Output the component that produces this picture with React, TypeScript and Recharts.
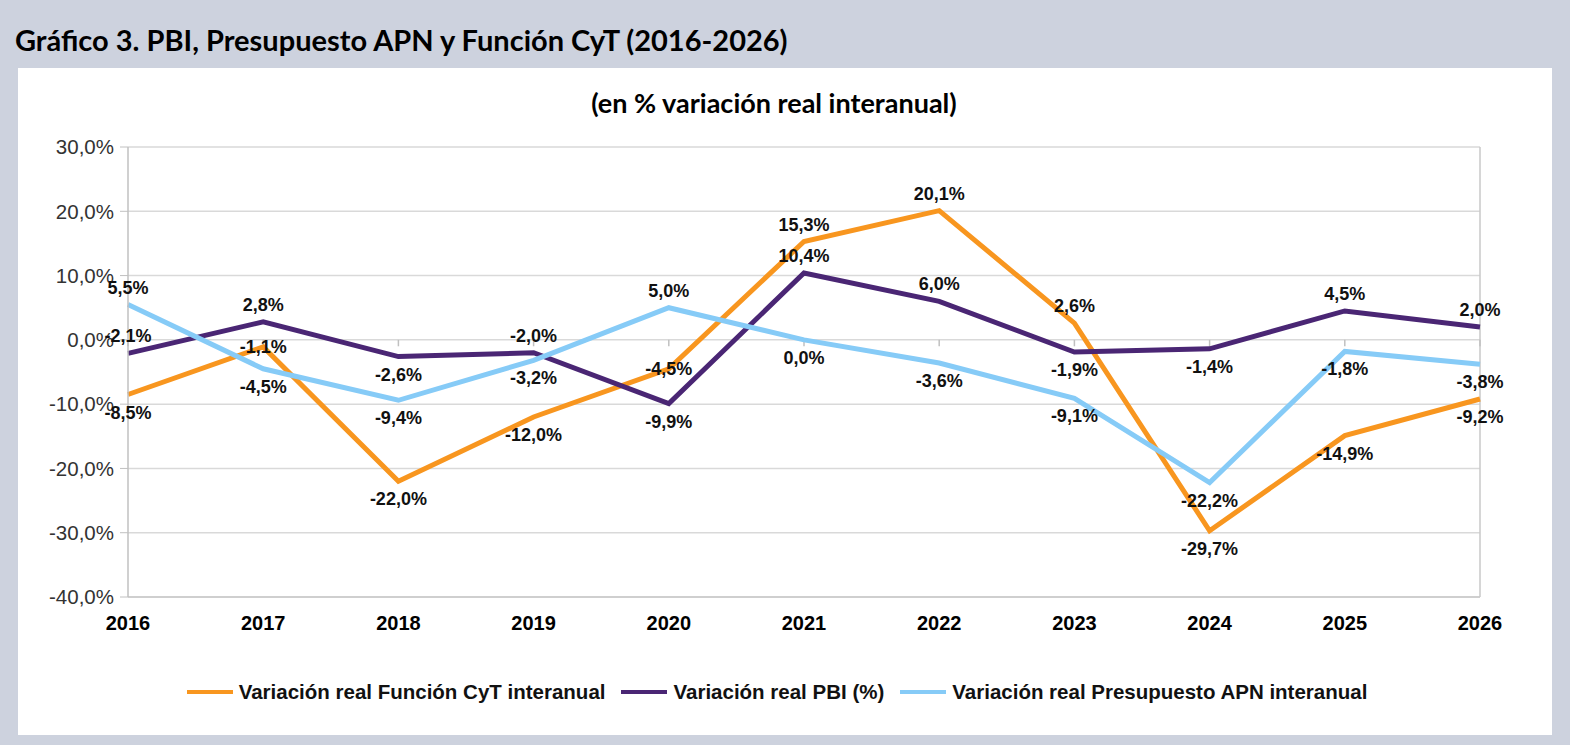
import React from 'react';
import { LineChart, Line, XAxis, YAxis, CartesianGrid, ReferenceLine, LabelList } from 'recharts';

const years = ['2016', '2017', '2018', '2019', '2020', '2021', '2022', '2023', '2024', '2025', '2026'];
const cytValues = [-8.5, -1.1, -22.0, -12.0, -4.5, 15.3, 20.1, 2.6, -29.7, -14.9, -9.2];
const pbiValues = [-2.1, 2.8, -2.6, -2.0, -9.9, 10.4, 6.0, -1.9, -1.4, 4.5, 2.0];
const apnValues = [5.5, -4.5, -9.4, -3.2, 5.0, 0.0, -3.6, -9.1, -22.2, -1.8, -3.8];
const yTicks = [-40, -30, -20, -10, 0, 10, 20, 30];

// where each data label sits relative to its point
type Place = 'up' | 'down' | 'mid';
const cytLabelPlace: Place[] = ['down', 'mid', 'down', 'down', 'mid', 'up', 'up', 'up', 'down', 'down', 'down'];
const pbiLabelPlace: Place[] = ['up', 'up', 'down', 'up', 'down', 'up', 'up', 'down', 'down', 'up', 'up'];
const apnLabelPlace: Place[] = ['up', 'down', 'down', 'down', 'up', 'down', 'down', 'down', 'down', 'down', 'down'];

const series = [
  { key: 'cyt', name: 'Variación real Función CyT interanual', color: '#F8961F', place: cytLabelPlace },
  { key: 'pbi', name: 'Variación real PBI (%)', color: '#4A2674', place: pbiLabelPlace },
  { key: 'apn', name: 'Variación real Presupuesto APN interanual', color: '#86CBF7', place: apnLabelPlace },
];

const data = years.map((year, i) => ({
  year,
  cyt: cytValues[i],
  pbi: pbiValues[i],
  apn: apnValues[i],
}));

const fmt = (v: number) => v.toFixed(1).replace('.', ',') + '%';
const ARIAL = '"Liberation Sans", Arial, sans-serif';
const CALIBRI = 'Lato, "Open Sans", sans-serif';

const makeLabel = (place: Place[]) => (props: any) => {
  const { x, y, index, value } = props;
  if (x == null || y == null) return null;
  const p = place[index];
  const dy = p === 'up' ? -17 : p === 'down' ? 18 : 0;
  return (
    <text
      x={x}
      y={y + dy}
      textAnchor="middle"
      dominantBaseline="central"
      fontFamily={ARIAL}
      fontSize={18}
      fontWeight="bold"
      fill="#111"
    >
      {fmt(Number(value))}
    </text>
  );
};

export default function App() {
  return (
    <div style={{ position: 'absolute', left: 0, top: 0, width: 1570, height: 745, background: '#CDD2DE', overflow: 'hidden' }}>
      <div style={{ position: 'absolute', left: 15, top: 22, fontFamily: CALIBRI, fontWeight: 700, fontSize: 29, color: '#000', whiteSpace: 'nowrap' }}>
        Gráfico 3. PBI, Presupuesto APN y Función CyT (2016-2026)
      </div>
      <div style={{ position: 'absolute', left: 18, top: 68, width: 1534, height: 667, background: '#fff' }} />
      <div style={{ position: 'absolute', left: 0, top: 86, width: 1548, textAlign: 'center', fontFamily: CALIBRI, fontWeight: 700, fontSize: 27, color: '#000', whiteSpace: 'nowrap' }}>
        (en % variación real interanual)
      </div>

      <div style={{ position: 'absolute', left: 0, top: 0 }}>
        <LineChart width={1570} height={745} data={data} margin={{ top: 147, right: 90, bottom: 108, left: 48 }}>
          <CartesianGrid vertical={false} stroke="#D9D9D9" strokeWidth={1.5} />
          <XAxis
            dataKey="year"
            axisLine={{ stroke: '#C8C8C8', strokeWidth: 1.5 }}
            tickLine={false}
            tickSize={0}
            tickMargin={19}
            height={40}
            interval={0}
            tick={{ fill: '#000', fontSize: 20, fontWeight: 'bold', fontFamily: ARIAL }}
          />
          <YAxis
            domain={[-40, 30]}
            ticks={yTicks}
            tickFormatter={fmt}
            width={80}
            axisLine={{ stroke: '#C0C0C0', strokeWidth: 1.5 }}
            tickLine={{ stroke: '#C0C0C0' }}
            tickSize={8}
            tickMargin={6}
            interval={0}
            tick={{ fill: '#333', fontSize: 20.5, fontFamily: ARIAL }}
          />
          <ReferenceLine x="2026" stroke="#C8C8C8" strokeWidth={1.5} />
          {years.map((y) => (
            <ReferenceLine
              key={'t' + y}
              segment={[{ x: y, y: 0 }, { x: y, y: -1 }]}
              stroke="#C0C0C0"
              strokeWidth={1.5}
            />
          ))}
          {series.map((s) => (
            <Line
              key={s.key}
              dataKey={s.key}
              name={s.name}
              type="linear"
              stroke={s.color}
              strokeWidth={5}
              dot={false}
              activeDot={false}
              isAnimationActive={false}
            />
          ))}
          {series.map((s) => (
            <Line
              key={s.key + '-labels'}
              dataKey={s.key}
              stroke="none"
              dot={false}
              activeDot={false}
              legendType="none"
              isAnimationActive={false}
            >
              <LabelList dataKey={s.key} content={makeLabel(s.place)} />
            </Line>
          ))}
        </LineChart>
      </div>

      <div
        style={{
          position: 'absolute',
          left: 0,
          top: 680,
          width: 1554,
          display: 'flex',
          justifyContent: 'center',
          alignItems: 'center',
          fontFamily: ARIAL,
          fontWeight: 'bold',
          fontSize: 20.5,
          color: '#111',
        }}
      >
        {series.map((s) => (
          <div key={s.key} style={{ display: 'flex', alignItems: 'center', margin: '0 8px' }}>
            <span style={{ display: 'inline-block', width: 46, height: 4, background: s.color, marginRight: 6 }} />
            <span>{s.name}</span>
          </div>
        ))}
      </div>
    </div>
  );
}
